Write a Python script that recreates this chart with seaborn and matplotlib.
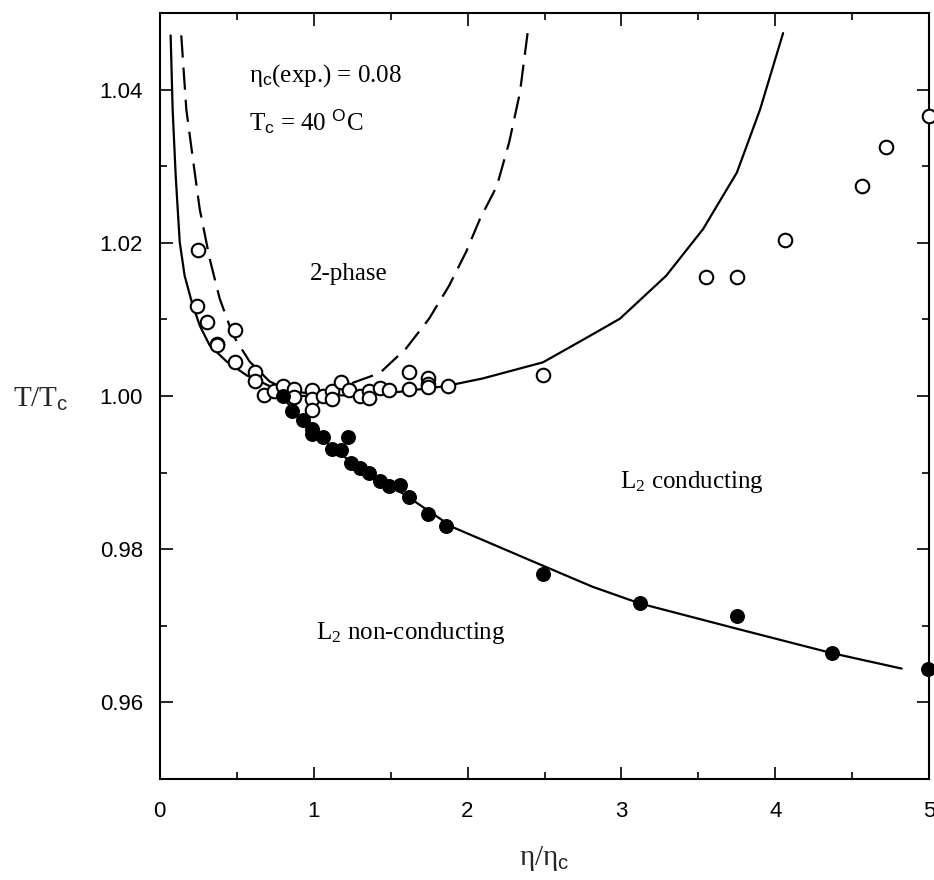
import matplotlib
matplotlib.use("Agg")
import matplotlib.pyplot as plt
import seaborn as sns
from matplotlib.ticker import MultipleLocator, FormatStrFormatter

sns.set_theme(style="ticks")
plt.rcParams['font.family'] = ['Liberation Sans', 'DejaVu Sans']
plt.rcParams['mathtext.fontset'] = 'custom'
plt.rcParams['mathtext.rm'] = 'Liberation Serif'
plt.rcParams['mathtext.it'] = 'Liberation Serif:italic'
plt.rcParams['mathtext.sf'] = 'Liberation Sans'

# open circles (upper boundary)
open_x = [0.247, 0.245, 0.31, 0.49, 0.37, 0.375, 0.49, 0.62, 0.62, 0.68, 0.74, 0.80,
          0.87, 0.87, 0.99, 0.99, 0.99, 1.06, 1.12, 1.12, 1.18, 1.23, 1.30, 1.36, 1.36,
          1.43, 1.49, 1.62, 1.62, 1.74, 1.74, 1.74, 1.87, 2.49, 3.55, 3.75, 4.06, 4.56,
          4.72, 5.0]
open_y = [1.0191, 1.0117, 1.0097, 1.0086, 1.0068, 1.0066, 1.0044, 1.0032, 1.0020, 1.0001,
          1.0007, 1.0013, 1.0009, 0.9999, 1.0008, 0.9996, 0.9982, 1.0000, 1.0007, 0.9996,
          1.0018, 1.0008, 1.0000, 1.0007, 0.9997, 1.0011, 1.0008, 1.0031, 1.0009, 1.0023,
          1.0016, 1.0012, 1.0013, 1.0027, 1.0156, 1.0156, 1.0204, 1.0274, 1.0325, 1.0366]

# filled circles (lower boundary)
fill_x = [0.80, 0.86, 0.93, 0.99, 0.99, 1.06, 1.22, 1.12, 1.18, 1.24, 1.30, 1.36, 1.43,
          1.49, 1.56, 1.62, 1.74, 1.86, 2.49, 3.12, 3.75, 4.37, 4.99]
fill_y = [1.0000, 0.9980, 0.9968, 0.9957, 0.9950, 0.9947, 0.9947, 0.9931, 0.9929, 0.9912,
          0.9906, 0.9899, 0.9889, 0.9883, 0.9884, 0.9868, 0.9846, 0.9830, 0.9768, 0.9730,
          0.9713, 0.9664, 0.9644]

# solid fit, upper branch
up_x = [0.071, 0.084, 0.104, 0.130, 0.162, 0.208, 0.260, 0.325, 0.435, 0.565, 0.714,
        0.779, 0.91, 1.23, 1.50, 1.86, 2.10, 2.49, 2.79, 2.99, 3.29, 3.53, 3.75, 3.90, 4.05]
up_y = [1.0471, 1.0374, 1.0287, 1.0201, 1.0157, 1.0123, 1.0092, 1.0066, 1.0045, 1.0027,
        1.0013, 1.0006, 1.0000, 1.0001, 1.0004, 1.0013, 1.0023, 1.0044, 1.0078, 1.0101,
        1.0157, 1.0218, 1.0292, 1.0374, 1.0474]

# dashed curve
dash_x = [0.14, 0.173, 0.216, 0.26, 0.325, 0.39, 0.477, 0.584, 0.714, 0.85, 1.00, 1.21,
          1.43, 1.60, 1.75, 1.88, 1.99, 2.08, 2.19, 2.27, 2.34, 2.39]
dash_y = [1.0471, 1.0374, 1.0309, 1.0244, 1.0179, 1.0127, 1.0079, 1.0045, 1.0019, 1.0006,
          1.0003, 1.0014, 1.0030, 1.0062, 1.0101, 1.0144, 1.0188, 1.0231, 1.0274, 1.0331,
          1.0396, 1.0474]

# solid fit, lower branch
low_x = [0.80, 0.82, 0.99, 1.21, 1.60, 1.90, 2.40, 2.81, 3.12, 3.75, 4.37, 4.82]
low_y = [1.0000, 0.9993, 0.9955, 0.9919, 0.9870, 0.9829, 0.9786, 0.9751, 0.9729, 0.9696,
         0.9664, 0.9644]

fig = plt.figure(figsize=(9.34, 8.8), dpi=100)
ax = fig.add_axes([0.171, 0.115, 0.824, 0.870])

lw = 1.6
sns.lineplot(x=up_x, y=up_y, sort=False, color='black', lw=lw, ax=ax)
sns.lineplot(x=low_x, y=low_y, sort=False, color='black', lw=lw, ax=ax)
sns.lineplot(x=dash_x, y=dash_y, sort=False, color='black', lw=lw, ax=ax)
ax.lines[-1].set_dashes((10, 4.5))

sns.scatterplot(x=open_x, y=open_y, ax=ax, marker='o', s=95, facecolor='white',
                edgecolor='black', linewidth=1.5, zorder=3, clip_on=False)
sns.scatterplot(x=fill_x, y=fill_y, ax=ax, marker='o', s=95, color='black',
                edgecolor='black', linewidth=1.0, zorder=4, clip_on=False)

ax.set_xlim(0, 5)
ax.set_ylim(0.95, 1.05)
ax.xaxis.set_major_locator(MultipleLocator(1))
ax.xaxis.set_minor_locator(MultipleLocator(0.5))
ax.set_yticks([0.96, 0.98, 1.00, 1.02, 1.04])
ax.yaxis.set_minor_locator(MultipleLocator(0.01))
ax.yaxis.set_major_formatter(FormatStrFormatter('%.2f'))
ax.tick_params(which='both', direction='in', top=True, right=True, width=1.2,
               colors='black')
ax.tick_params(which='major', length=9, labelsize=16)
ax.tick_params(axis='x', which='major', pad=16)
ax.tick_params(axis='y', which='major', pad=12)
ax.tick_params(which='minor', length=5)
for sp in ax.spines.values():
    sp.set_linewidth(1.5)
    sp.set_color('black')

serif = ['Liberation Serif', 'DejaVu Serif']
ax.set_xlabel('η/η$_\\mathsf{c}$', fontsize=21, labelpad=16, family=serif)
ax.set_ylabel('T/T$_\\mathsf{c}$', fontsize=21, rotation=0, family=serif)
ax.yaxis.set_label_coords(-0.155, 0.478)

tkw = dict(fontsize=18, color='black', family=serif)
ax.text(0.58, 1.0418, 'η$_\\mathsf{c}$(exp.) = 0.08', va='center', ha='left', **tkw)
ax.text(0.58, 1.0358, 'T$_\\mathsf{c}$ = 40 $^\\mathsf{O}$C', va='center', ha='left', **tkw)
ax.text(1.23, 1.0160, '2-phase', va='center', ha='center', **tkw)
ax.text(3.46, 0.9888, 'L$_\\mathrm{2}$ conducting', va='center', ha='center', **tkw)
ax.text(1.63, 0.9690, 'L$_\\mathrm{2}$ non-conducting', va='center', ha='center', **tkw)

fig.savefig('out.png', dpi=100, facecolor='white')
